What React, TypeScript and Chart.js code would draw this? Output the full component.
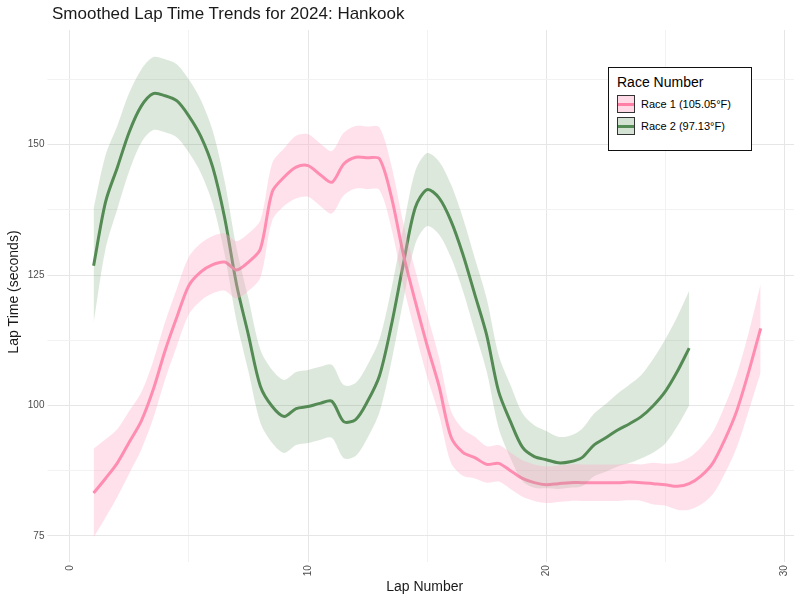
import React, { useEffect, useRef } from 'react';
import { Chart, registerables } from 'chart.js';

Chart.register(...registerables);

// lap numbers in half-lap steps
const race1Laps = Array.from({ length: 57 }, (_, i) => 1 + i * 0.5);
const race2Laps = Array.from({ length: 51 }, (_, i) => 1 + i * 0.5);

const race1Mean = [
  83.2, 86, 89, 93, 97, 103, 110.5, 117, 123, 125.6, 127, 127.5, 126, 127.5, 130, 141, 143.8,
  145.7, 146, 144.3, 142.8, 146.3, 147.6, 147.5, 147.3, 140, 129, 120, 111.5, 103.7, 94, 91, 90,
  88.7, 88.9, 87.5, 86, 85.2, 84.8, 85, 85.2, 85.2, 85.2, 85.2, 85.2, 85.3, 85.2, 85, 84.8, 84.5,
  85, 86.5, 89, 93.5, 99, 106.5, 114.8,
];
const race1Se = [
  8.5, 7.5, 6.5, 6, 5.5, 5.5, 5.5, 5.5, 5.5, 5.5, 5.5, 5.5, 5.5, 5.5, 5.5, 5.5, 5.5,
  6, 6, 6, 6, 6, 6, 6, 6, 6, 6, 6, 6, 5.5, 5, 4.5, 4,
  3.5, 3.5, 3.5, 3.5, 3.5, 3.5, 3.5, 3.5, 3.5, 3.5, 3.5, 3.5, 3.5, 3.5, 4, 4, 4.5,
  5, 5.5, 6, 6.5, 7, 7.5, 8.5,
];
const race2Mean = [
  126.8, 139, 145.7, 152.5, 157.4, 159.8, 159.4, 158.4, 155.5, 151.6, 145.7, 136, 123.2, 113.5,
  103.7, 99.8, 97.9, 99.4, 99.8, 100.4, 100.8, 96.9, 97.3, 100.8, 105.7, 115.4, 127.1, 137.9,
  141.4, 139.8, 135.4, 129, 121.3, 113.5, 102.7, 96.9, 92, 90.2, 89.6, 89, 89.2, 90, 92.4, 93.8,
  95.3, 96.5, 97.9, 100, 102.7, 106.5, 111,
];
const race2Se = [
  11, 9, 8, 7.5, 7, 7, 7, 7, 7, 7, 7, 7, 7, 7,
  7, 7, 7, 7, 7, 7, 7, 7, 7, 7, 7, 7, 7, 7,
  7, 7, 7, 7, 7, 7, 7, 7, 6.5, 6, 5.5, 5, 5, 5.5, 6, 6.5,
  7, 7.5, 8, 9, 10, 10.5, 11,
];

const pts = (xs: number[], ys: number[], off: number[] = [], sign = 0) =>
  xs.map((x, i) => ({ x, y: ys[i] + sign * (off[i] || 0) }));

export default function App() {
  const canvasRef = useRef<HTMLCanvasElement>(null);

  useEffect(() => {
    document.body.style.margin = '0';
    if (!canvasRef.current) return;
    const band = (data: any[], color: string, fill: any) => ({
      data, borderWidth: 0, pointRadius: 0, backgroundColor: color, fill, tension: 0.3,
    });
    const chart = new Chart(canvasRef.current, {
      type: 'line',
      data: {
        datasets: [
          band(pts(race1Laps, race1Mean, race1Se, -1), 'rgba(0,0,0,0)', false),
          band(pts(race1Laps, race1Mean, race1Se, 1), 'rgba(255,170,200,0.35)', '-1'),
          band(pts(race2Laps, race2Mean, race2Se, -1), 'rgba(0,0,0,0)', false),
          band(pts(race2Laps, race2Mean, race2Se, 1), 'rgba(84,139,84,0.2)', '-1'),
          { data: pts(race1Laps, race1Mean), borderColor: '#ff7fa6', borderWidth: 3, pointRadius: 0, fill: false, tension: 0.3 },
          { data: pts(race2Laps, race2Mean), borderColor: '#548b54', borderWidth: 3, pointRadius: 0, fill: false, tension: 0.3 },
        ],
      },
      options: {
        animation: false,
        responsive: false,
        layout: { padding: { top: 30, right: 6, left: 4, bottom: 4 } },
        plugins: { legend: { display: false }, tooltip: { enabled: false } },
        scales: {
          x: {
            type: 'linear', min: -0.6, max: 30.4,
            border: { display: false },
            grid: { color: (c: any) => (c.tick.value % 10 === 0 ? '#e6e6e6' : '#f2f2f2') },
            afterBuildTicks: (s: any) => { s.ticks = [0, 5, 10, 15, 20, 25, 30].map((v) => ({ value: v })); },
            ticks: {
              color: '#4d4d4d', font: { size: 10, family: 'Arial' }, maxRotation: 90, minRotation: 90,
              callback: (v: any) => (v % 10 === 0 ? String(v) : ''),
            },
            title: { display: true, text: 'Lap Number', color: '#1a1a1a', font: { size: 14, family: 'Arial' }, padding: 0 },
          },
          y: {
            min: 71.5, max: 172,
            border: { display: false },
            grid: { color: (c: any) => (c.tick.value % 25 === 0 ? '#e6e6e6' : '#f2f2f2') },
            afterBuildTicks: (s: any) => { s.ticks = [75, 87.5, 100, 112.5, 125, 137.5, 150, 162.5].map((v) => ({ value: v })); },
            ticks: {
              color: '#4d4d4d', font: { size: 10, family: 'Arial' },
              callback: (v: any) => (v % 25 === 0 ? String(v) : ''),
            },
            title: { display: true, text: 'Lap Time (seconds)', color: '#1a1a1a', font: { size: 14, family: 'Arial' }, padding: 2 },
          },
        },
      },
    });
    return () => chart.destroy();
  }, []);

  const item = (fill: string, line: string, label: string) => (
    <div style={{ display: 'flex', alignItems: 'center', height: 22 }}>
      <div style={{ width: 18, height: 18, background: fill, border: '1px solid #333', position: 'relative', boxSizing: 'border-box' }}>
        <div style={{ position: 'absolute', left: 0, right: 0, top: 7, height: 3, background: line }} />
      </div>
      <span style={{ marginLeft: 6, fontSize: 11 }}>{label}</span>
    </div>
  );

  return (
    <div style={{ position: 'relative', width: 800, height: 600, fontFamily: 'Arial, sans-serif', background: '#fff' }}>
      <canvas ref={canvasRef} width={800} height={600} />
      <div style={{ position: 'absolute', left: 52, top: 4, fontSize: 17, color: '#1a1a1a' }}>
        Smoothed Lap Time Trends for 2024: Hankook
      </div>
      <div style={{ position: 'absolute', left: 608, top: 67, width: 144, height: 84, border: '1.5px solid #111', background: '#fff', boxSizing: 'border-box', padding: '6px 8px' }}>
        <div style={{ fontSize: 14, marginBottom: 3 }}>Race Number</div>
        {item('rgba(255,170,200,0.45)', '#ff7fa6', 'Race 1 (105.05°F)')}
        {item('rgba(84,139,84,0.25)', '#548b54', 'Race 2 (97.13°F)')}
      </div>
    </div>
  );
}
